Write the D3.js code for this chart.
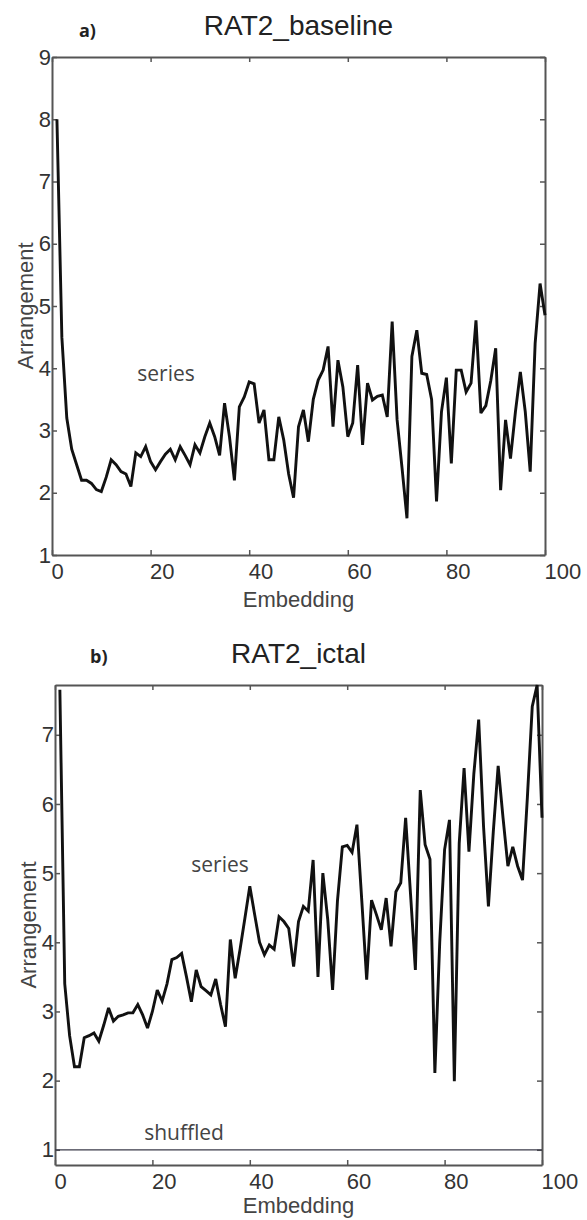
<!DOCTYPE html>
<html>
<head>
<meta charset="utf-8">
<script src="https://cdn.jsdelivr.net/npm/d3@7"></script>
<style>
  body { margin: 0; background: #fff; }
  svg { display: block; }
  .tick text { font-family: "Liberation Sans", Arial, sans-serif; font-size: 22px; fill: #333; }
</style>
</head>
<body>
<script>
// embedding index runs 1..100 in both panels
const baselineSeries = [
  8.0, 4.5, 3.2, 2.7, 2.45, 2.2, 2.2, 2.15, 2.05, 2.02,
  2.25, 2.53, 2.45, 2.34, 2.3, 2.1, 2.64, 2.58, 2.74, 2.5,
  2.37, 2.5, 2.62, 2.7, 2.53, 2.74, 2.6, 2.45, 2.77, 2.64,
  2.9, 3.12, 2.9, 2.6, 3.44, 2.9, 2.2, 3.38, 3.54, 3.78,
  3.75, 3.12, 3.33, 2.53, 2.53, 3.22, 2.85, 2.3, 1.92, 3.06,
  3.33, 2.82, 3.5, 3.81, 3.97, 4.35, 3.06, 4.13, 3.7, 2.9,
  3.12, 4.05, 2.77, 3.76, 3.49, 3.55, 3.57, 3.22, 4.75, 3.17,
  2.4, 1.59, 4.19, 4.61, 3.92, 3.9, 3.5, 1.86, 3.3, 3.85,
  2.47, 3.97, 3.97, 3.62, 3.76, 4.77, 3.28, 3.4, 3.8, 4.32,
  2.04, 3.17, 2.55, 3.3, 3.94, 3.3, 2.34, 4.4, 5.36, 4.85
];
const ictalSeries = [
  7.65, 3.4, 2.65, 2.2, 2.2, 2.62, 2.65, 2.69, 2.57, 2.8,
  3.05, 2.86, 2.93, 2.95, 2.98, 2.98, 3.1, 2.95, 2.76, 3.0,
  3.31, 3.15, 3.4, 3.75, 3.78, 3.84, 3.5, 3.14, 3.6, 3.36,
  3.3, 3.24, 3.47, 3.1, 2.78, 4.04, 3.48, 3.9, 4.35, 4.81,
  4.4, 4.0, 3.82, 3.96, 3.9, 4.37, 4.3, 4.2, 3.65, 4.3,
  4.52, 4.45, 5.19, 3.5, 5.0, 4.33, 3.31, 4.6, 5.38, 5.4,
  5.3, 5.7, 4.6, 3.46, 4.61, 4.4, 4.18, 4.64, 3.94, 4.73,
  4.86, 5.8, 4.7, 3.6, 6.2, 5.41, 5.2, 2.11, 4.0, 5.34,
  5.77, 1.99, 5.43, 6.52, 5.31, 6.43, 7.22, 5.67, 4.52, 5.6,
  6.55, 5.8, 5.1, 5.38, 5.1, 4.9, 6.1, 7.41, 7.72, 5.8
];
const shuffledIctal = 1;

const xTicks = [0, 20, 40, 60, 80, 100];
const yTicksBaseline = [1, 2, 3, 4, 5, 6, 7, 8, 9];
const yTicksIctal = [1, 2, 3, 4, 5, 6, 7];

const svg = d3.select("body").append("svg")
  .attr("width", 587)
  .attr("height", 1220);

const noteFont = "'Open Sans', Lato, sans-serif";

function drawPanel(p) {
  const x = d3.scaleLinear().domain([0, 100]).range([p.left, p.right]);
  const y = d3.scaleLinear().domain(p.yDomain).range([p.bottom, p.top]);
  const g = svg.append("g");

  // frame with inward ticks on all four sides
  const bottom = g.append("g")
    .attr("transform", `translate(0,${p.bottom})`)
    .call(d3.axisBottom(x).tickValues(xTicks).tickSizeInner(-5).tickSizeOuter(0).tickPadding(8));
  bottom.selectAll("text").attr("text-anchor", "start").attr("dx", "-1");

  g.append("g")
    .attr("transform", `translate(${p.left},0)`)
    .call(d3.axisLeft(y).tickValues(p.yTicks).tickFormat(d3.format("d"))
      .tickSizeInner(-5).tickSizeOuter(0).tickPadding(1));

  g.append("g")
    .attr("transform", `translate(0,${p.top})`)
    .call(d3.axisTop(x).tickValues(xTicks).tickSizeInner(-5).tickSizeOuter(0).tickFormat(""));

  g.append("g")
    .attr("transform", `translate(${p.right},0)`)
    .call(d3.axisRight(y).tickValues(p.yTicks).tickSizeInner(-5).tickSizeOuter(0).tickFormat(""));

  g.selectAll(".domain").attr("stroke", "#555").attr("stroke-width", 2);
  g.selectAll(".tick line").attr("stroke", "#555").attr("stroke-width", 1.5);

  if (p.shuffled !== undefined) {
    g.append("line")
      .attr("x1", p.left).attr("x2", p.right)
      .attr("y1", y(p.shuffled)).attr("y2", y(p.shuffled))
      .attr("stroke", "#3a3a48")
      .attr("stroke-width", 1.3);
    g.append("text")
      .attr("x", x(26.5))
      .attr("y", y(p.shuffled) - 10)
      .attr("text-anchor", "middle")
      .style("font-family", noteFont)
      .style("font-size", "21px")
      .style("fill", "#444")
      .text("shuffled");
  }

  const line = d3.line()
    .x((d, i) => x(i + 1))
    .y(d => y(d));

  g.append("path")
    .datum(p.series)
    .attr("fill", "none")
    .attr("stroke", "#111")
    .attr("stroke-width", 2.9)
    .attr("stroke-linejoin", "miter")
    .attr("stroke-miterlimit", 3)
    .attr("d", line);

  g.append("text")
    .attr("x", p.seriesLabel[0])
    .attr("y", p.seriesLabel[1])
    .attr("text-anchor", "middle")
    .style("font-family", noteFont)
    .style("font-size", "21px")
    .style("fill", "#444")
    .text("series");

  // titles and axis labels
  g.append("text")
    .attr("x", (p.left + p.right) / 2)
    .attr("y", p.top - 22)
    .attr("text-anchor", "middle")
    .style("font-family", "'Liberation Sans', Arial, sans-serif")
    .style("font-size", "28px")
    .style("fill", "#222")
    .text(p.title);

  g.append("text")
    .attr("x", p.tag[0])
    .attr("y", p.tag[1])
    .style("font-family", noteFont)
    .style("font-weight", "bold")
    .style("font-size", "18px")
    .style("fill", "#222")
    .text(p.tagText);

  g.append("text")
    .attr("x", (p.left + p.right) / 2)
    .attr("y", p.bottom + p.xLabelGap)
    .attr("text-anchor", "middle")
    .style("font-family", "'Liberation Sans', Arial, sans-serif")
    .style("font-size", "22px")
    .style("fill", "#444")
    .text("Embedding");

  g.append("text")
    .attr("transform", `translate(${p.left - 19},${(p.top + p.bottom) / 2}) rotate(-90)`)
    .attr("text-anchor", "middle")
    .style("font-family", "'Liberation Sans', Arial, sans-serif")
    .style("font-size", "22px")
    .style("fill", "#444")
    .text("Arrangement");
}

drawPanel({
  left: 52, right: 545, top: 57, bottom: 555,
  yDomain: [1, 9], yTicks: yTicksBaseline,
  series: baselineSeries,
  title: "RAT2_baseline", tagText: "a)", tag: [79, 37],
  seriesLabel: [166, 381], xLabelGap: 52
});

drawPanel({
  left: 55, right: 542, top: 685, bottom: 1165,
  yDomain: [0.78, 7.72], yTicks: yTicksIctal,
  series: ictalSeries, shuffled: shuffledIctal,
  title: "RAT2_ictal", tagText: "b)", tag: [90, 663],
  seriesLabel: [220, 872], xLabelGap: 48
});
</script>
</body>
</html>
